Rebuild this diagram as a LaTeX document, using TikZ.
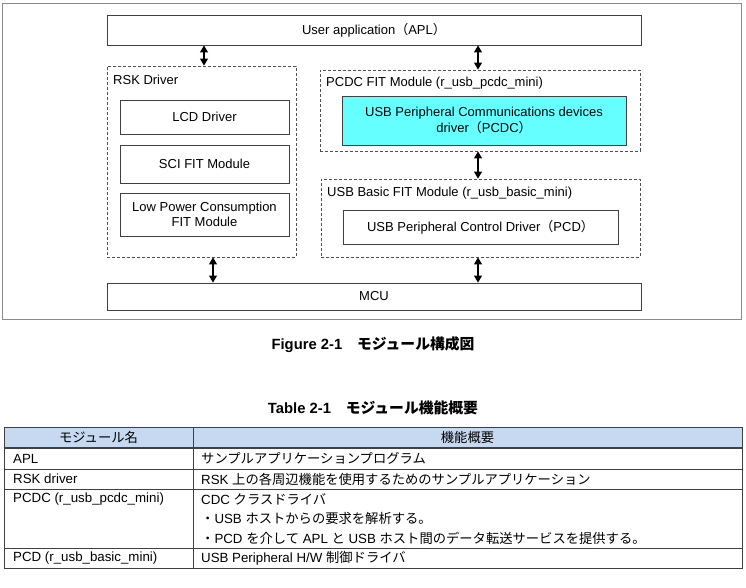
\documentclass[tikz,border=0pt]{standalone}
\usepackage{fontspec}
\setmainfont{Liberation Sans}
\newfontfamily\jp{Noto Sans CJK JP}
\usetikzlibrary{arrows.meta}
\newcommand\J[1]{{\jp #1}}
\definecolor{boxline}{HTML}{404040}
\definecolor{frameline}{HTML}{8A8A8A}
\definecolor{dashline}{HTML}{505050}
\definecolor{cyanfill}{HTML}{66FFFF}
\definecolor{headfill}{HTML}{C6D9F1}
\begin{document}
\begin{tikzpicture}[x=1pt,y=-1pt,
  box/.style={draw=boxline,line width=0.9pt,rectangle,inner sep=0pt,align=center,
    font=\fontsize{13}{15.5}\selectfont},
  group/.style={draw=dashline,line width=0.85pt,dash pattern=on 3pt off 2pt,rectangle,inner sep=0pt},
  lbl/.style={anchor=west,inner sep=0pt,font=\fontsize{13}{15.5}\selectfont},
  dbl/.style={line width=1.1pt,black,{Triangle[length=7pt,width=8pt]}-{Triangle[length=7pt,width=8pt]}},
  captext/.style={inner sep=0pt,font=\fontsize{14.8}{17}\selectfont\bfseries},
  cell/.style={anchor=west,inner sep=0pt,font=\fontsize{13.3}{16}\selectfont},
  hcell/.style={inner sep=0pt,font=\fontsize{13.3}{16}\selectfont},
  tline/.style={draw=boxline,line width=0.8pt}
]
\useasboundingbox (0,0) rectangle (746,588);
% outer frame
\draw[frameline,line width=1pt] (2,4) rectangle (741,319);

% boxes
\node[box,minimum width=534pt,minimum height=30pt] (apl) at (374,30) {User application\J{（}APL\J{）}};
\node[group,minimum width=189pt,minimum height=191pt] (rsk) at (201.5,161.5) {};
\node[lbl] (rsklbl) at (113,80) {RSK Driver};
\node[box,minimum width=169pt,minimum height=34pt] (lcd) at (204.5,117) {LCD Driver};
\node[box,minimum width=169pt,minimum height=38pt] (sci) at (204.5,164) {SCI FIT Module};
\node[box,minimum width=169pt,minimum height=43pt] (lpc) at (204.5,214.5) {Low Power Consumption\\FIT Module};

\node[group,minimum width=320pt,minimum height=81pt] (pcdcg) at (480,110.5) {};
\node[lbl] (pcdclbl) at (326,83) {PCDC FIT Module (r\_usb\_pcdc\_mini)};
\node[box,fill=cyanfill,minimum width=284pt,minimum height=49pt] (pcdc) at (484,120.5) {USB Peripheral Communications devices\\driver\J{（}PCDC\J{）}};

\node[group,minimum width=319pt,minimum height=78pt] (basicg) at (480.5,218) {};
\node[lbl] (basiclbl) at (327,193) {USB Basic FIT Module (r\_usb\_basic\_mini)};
\node[box,minimum width=275pt,minimum height=34pt] (pcd) at (480.5,227) {USB Peripheral Control Driver\J{（}PCD\J{）}};

\node[box,minimum width=534pt,minimum height=27pt] (mcu) at (374,296.5) {MCU};

% arrows
\coordinate (ax1) at (204,0);
\coordinate (ax2) at (478,0);
\coordinate (ax3) at (213,0);
\draw[dbl] (apl.south -| ax1) -- (rsk.north -| ax1);
\draw[dbl] (apl.south -| ax2) -- (pcdcg.north -| ax2);
\draw[dbl] (pcdcg.south -| ax2) -- (basicg.north -| ax2);
\draw[dbl] (rsk.south -| ax3) -- (mcu.north -| ax3);
\draw[dbl] (basicg.south -| ax2) -- (mcu.north -| ax2);

% captions
\node[captext] (figcap) at (373,345) {Figure 2-1\J{　モジュール構成図}};
\node[captext] (tabcap) at (373,408) {Table 2-1\J{　モジュール機能概要}};

% table
\fill[headfill] (4,427) rectangle (742,448);
\draw[tline] (4,427) rectangle (742,568);
\draw[boxline,line width=1.6pt] (4,448) -- (742,448);
\draw[tline] (4,469) -- (742,469);
\draw[tline] (4,489) -- (742,489);
\draw[tline] (4,548) -- (742,548);
\draw[tline] (193,427) -- (193,568);

\node[hcell] (h1) at (98.5,437.5) {\J{モジュール名}};
\node[hcell] (h2) at (467.5,437.5) {\J{機能概要}};

\node[cell] (r1a) at (13,458.5) {APL};
\node[cell] (r1b) at (201,458.5) {\J{サンプルアプリケーションプログラム}};
\node[cell] (r2a) at (13,479) {RSK driver};
\node[cell] (r2b) at (201,479) {RSK \J{上の各周辺機能を使用するためのサンプルアプリケーション}};
\node[cell] (r3a) at (13,499) {PCDC (r\_usb\_pcdc\_mini)};
\node[cell] (r3b) at (201,499) {CDC \J{クラスドライバ}};
\node[cell] (r3c) at (201,518.5) {\J{・}USB \J{ホストからの要求を解析する。}};
\node[cell] (r3d) at (201,538) {\J{・}PCD \J{を介して} APL \J{と} USB \J{ホスト間のデータ転送サービスを提供する。}};
\node[cell] (r4a) at (13,558) {PCD (r\_usb\_basic\_mini)};
\node[cell] (r4b) at (201,558) {USB Peripheral H/W \J{制御ドライバ}};
\end{tikzpicture}
\end{document}
